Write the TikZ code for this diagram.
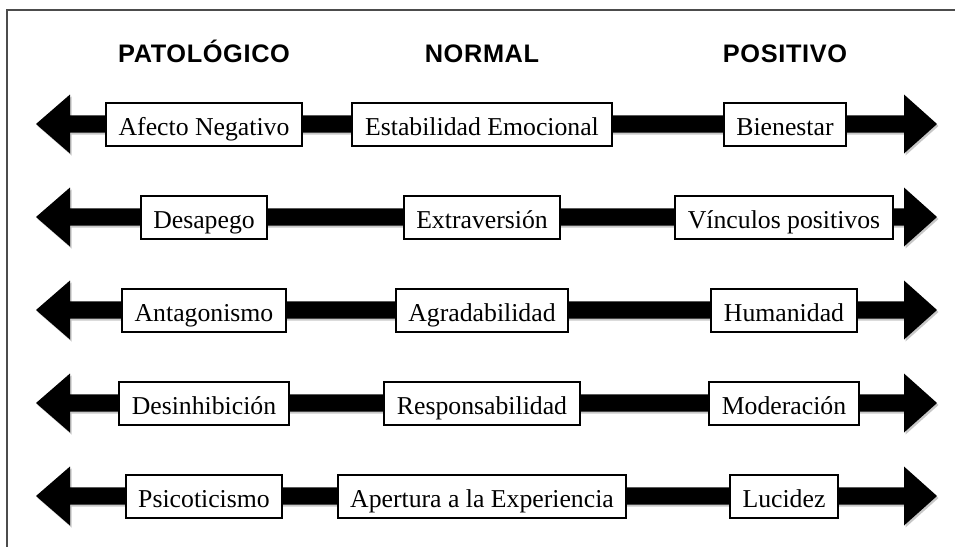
\documentclass[tikz,border=0pt]{standalone}
\usepackage{fontspec}
\setmainfont{Liberation Serif}
\newfontfamily\hdrfont[LetterSpace=2.5]{Liberation Sans}
\begin{document}
\begin{tikzpicture}[x=0.75pt,y=-0.75pt,
  lbl/.style={draw=black, line width=1.5pt, fill=white,
    font=\fontsize{19.3}{22}\selectfont, inner xsep=9.5pt, inner ysep=0pt,
    minimum height=32.25pt, text height=18pt, text depth=0.8pt},
  hdr/.style={font=\hdrfont\bfseries\fontsize{19}{22}\selectfont, anchor=base, inner sep=0pt},
  barfill/.style={fill=black},
  shadowfill/.style={fill=black!22},
  frame/.style={draw=black!70, line width=1.5pt}]
\useasboundingbox (0,0) rectangle (955,546);
\draw[frame] (7,560) -- (7,10) -- (970,10);
% headers
\node[hdr] (hpat) at (204,62) {PATOLÓGICO};
\node[hdr] (hnor) at (482,62) {NORMAL};
\node[hdr] (hpos) at (785,62) {POSITIVO};
% arrow ends
\foreach \y [count=\i] in {124,217,310,403,496}{
  \coordinate (L\i) at (36,\y);
  \coordinate (R\i) at (937,\y);
}
% shadows
\begin{scope}[transform canvas={shift={(1.5,2)}}]
\foreach \i in {1,...,5}{
  \fill[shadowfill] (L\i) -- ([shift={(34,-29.5)}]L\i) -- ([shift={(34,-8.7)}]L\i)
    -- ([shift={(-33,-8.7)}]R\i) -- ([shift={(-33,-29.5)}]R\i) -- (R\i)
    -- ([shift={(-33,29.5)}]R\i) -- ([shift={(-33,8.7)}]R\i)
    -- ([shift={(34,8.7)}]L\i) -- ([shift={(34,29.5)}]L\i) -- cycle;
}
\end{scope}
% arrows
\foreach \i in {1,...,5}{
  \fill[barfill] (L\i) -- ([shift={(34,-29.5)}]L\i) -- ([shift={(34,-8.7)}]L\i)
    -- ([shift={(-33,-8.7)}]R\i) -- ([shift={(-33,-29.5)}]R\i) -- (R\i)
    -- ([shift={(-33,29.5)}]R\i) -- ([shift={(-33,8.7)}]R\i)
    -- ([shift={(34,8.7)}]L\i) -- ([shift={(34,29.5)}]L\i) -- cycle;
}
% boxes
\node[lbl] (p1) at (204,124) {Afecto Negativo};
\node[lbl] (n1) at (482,124) {Estabilidad Emocional};
\node[lbl] (s1) at (785,124) {Bienestar};
\node[lbl] (p2) at (204,217) {Desapego};
\node[lbl] (n2) at (482,217) {Extraversión};
\node[lbl] (s2) at (784,217) {Vínculos positivos};
\node[lbl] (p3) at (204,310) {Antagonismo};
\node[lbl] (n3) at (482,310) {Agradabilidad};
\node[lbl] (s3) at (784,310) {Humanidad};
\node[lbl] (p4) at (204,403) {Desinhibición};
\node[lbl] (n4) at (482,403) {Responsabilidad};
\node[lbl] (s4) at (784,403) {Moderación};
\node[lbl] (p5) at (204,496) {Psicoticismo};
\node[lbl] (n5) at (482,496) {Apertura a la Experiencia};
\node[lbl] (s5) at (784,496) {Lucidez};
\end{tikzpicture}
\end{document}
